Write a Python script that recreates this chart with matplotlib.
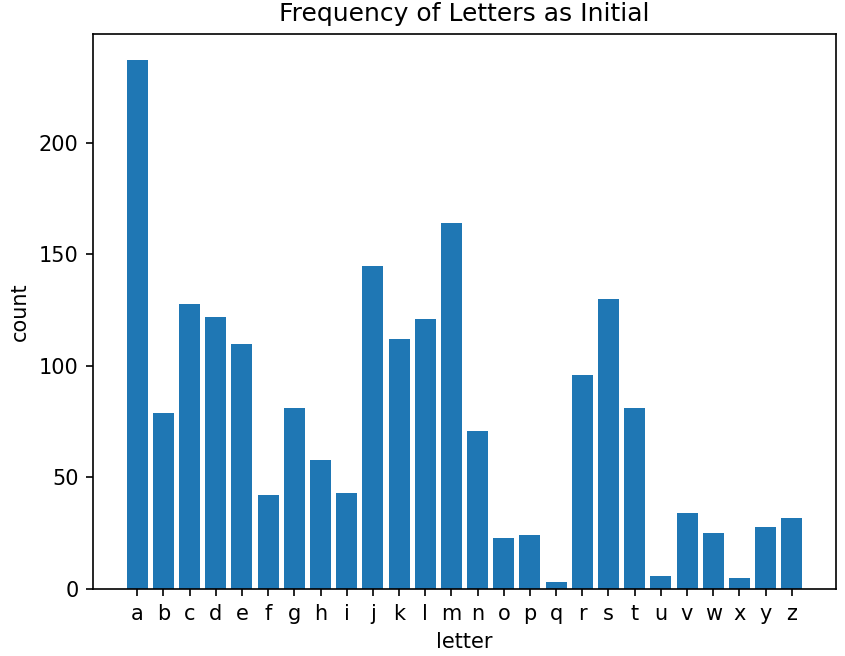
import matplotlib
matplotlib.use("Agg")
import matplotlib.pyplot as plt

letters = list("abcdefghijklmnopqrstuvwxyz")
counts = [237, 79, 128, 122, 110, 42, 81, 58, 43, 145, 112, 121, 164,
          71, 23, 24, 3, 96, 130, 81, 6, 34, 25, 5, 28, 32]

fig = plt.figure(figsize=(845 / 150, 656 / 150), dpi=150)
ax = fig.add_axes([93 / 845, 1 - 589 / 656, (836 - 93) / 845, (589 - 34) / 656])
ax.bar(letters, counts)
ax.set_title("Frequency of Letters as Initial")
ax.set_xlabel("letter")
ax.set_ylabel("count")
fig.savefig("out.png", dpi=150)
